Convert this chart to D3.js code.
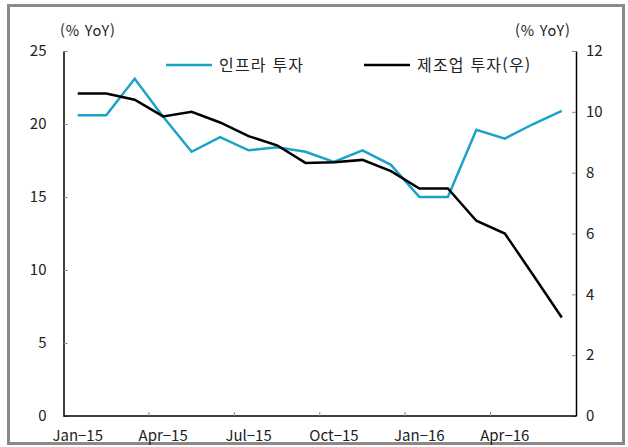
<!DOCTYPE html>
<html lang="ko">
<head>
<meta charset="utf-8">
<title>인프라 투자 vs 제조업 투자</title>
<style>
   html,body { margin:0; padding:0; background:#fff; }
   svg { display:block; }
   text { font-family:"Noto Sans CJK KR","Noto Sans",sans-serif; fill:#222; }
</style>
<script src="https://d3js.org/d3.v7.min.js"></script>
</head>
<body>
<script>
// months, Jan-15 .. Jun-16
const months = ['Jan-15','Feb-15','Mar-15','Apr-15','May-15','Jun-15','Jul-15','Aug-15','Sep-15',
   'Oct-15','Nov-15','Dec-15','Jan-16','Feb-16','Mar-16','Apr-16','May-16','Jun-16'];
const tickMonths = ['Jan-15','Apr-15','Jul-15','Oct-15','Jan-16','Apr-16'];
// 인프라 투자 (left axis, % YoY)
const infra = [20.6,20.6,23.1,20.5,18.1,19.1,18.2,18.4,18.1,17.4,18.2,17.2,15.0,15.0,19.6,19.0,20.0,20.9];
// 제조업 투자 (right axis, % YoY)
const manuf = [10.6,10.6,10.4,9.85,10.0,9.65,9.2,8.9,8.32,8.34,8.42,8.05,7.48,7.48,6.42,6.0,4.63,3.24];
const leftTicks = [0,5,10,15,20,25];
const rightTicks = [0,2,4,6,8,10,12];
const seriesNames = ['인프라 투자','제조업 투자(우)'];
const colors = ['#1ba3c6','#000000'];

const W = 628, H = 447;
const margin = {top:51, right:52, bottom:31, left:63.5};

const svg = d3.select('body').append('svg').attr('width',W).attr('height',H);

// outer frame
svg.append('rect').attr('x',8.5).attr('y',5.5).attr('width',615).attr('height',438)
   .attr('fill','none').attr('stroke','#8a8a8a').attr('stroke-width',3);

const x = d3.scaleBand().domain(months).range([margin.left, W-margin.right]);
const yL = d3.scaleLinear().domain([0,25]).range([H-margin.bottom, margin.top]);
const yR = d3.scaleLinear().domain([0,12]).range([H-margin.bottom, margin.top]);
const cx = m => x(m)+x.bandwidth()/2;

// left axis
const gL = svg.append('g').attr('transform',`translate(${margin.left},0)`)
   .call(d3.axisRight(yL).tickValues(leftTicks).tickSize(4).tickSizeOuter(0));
gL.select('.domain').attr('stroke','#000').attr('stroke-width',1.5);
gL.selectAll('.tick line').attr('stroke','#888');
gL.selectAll('.tick text').attr('x',-17).attr('text-anchor','end').style('font-size','15px').attr('fill','#333');

// right axis
const gR = svg.append('g').attr('transform',`translate(${W-margin.right},0)`)
   .call(d3.axisLeft(yR).tickValues(rightTicks).tickSize(4).tickSizeOuter(0));
gR.select('.domain').attr('stroke','#000').attr('stroke-width',1.5);
gR.selectAll('.tick line').attr('stroke','#888');
gR.selectAll('.tick text').attr('x',10).attr('text-anchor','start').style('font-size','15px').attr('fill','#333');

// bottom axis: ticks at band starts, labels at band centers
const gB = svg.append('g').attr('transform',`translate(0,${H-margin.bottom})`);
gB.append('line').attr('x1',margin.left).attr('x2',W-margin.right).attr('stroke','#000').attr('stroke-width',1.5);
gB.selectAll('line.tk').data(tickMonths.slice(1)).join('line').attr('class','tk')
   .attr('x1',d=>x(d)).attr('x2',d=>x(d)).attr('y1',0).attr('y2',-4).attr('stroke','#888');
gB.selectAll('text').data(tickMonths).join('text')
   .attr('x',d=>cx(d)).attr('y',25).attr('text-anchor','middle').style('font-size','15px').attr('fill','#333')
   .text(d=>d.replace('-','\u2212'));

// unit labels
svg.selectAll('text.unit').data([60,515]).join('text').attr('class','unit')
   .attr('x',d=>d).attr('y',36).style('font-size','14.5px').style('letter-spacing','0.8px').attr('fill','#333').text('(% YoY)');

// lines
const lineL = d3.line().x((d,i)=>cx(months[i])).y(d=>yL(d));
const lineR = d3.line().x((d,i)=>cx(months[i])).y(d=>yR(d));
svg.append('path').datum(infra).attr('d',lineL).attr('fill','none').attr('stroke',colors[0]).attr('stroke-width',2.5);
svg.append('path').datum(manuf).attr('d',lineR).attr('fill','none').attr('stroke',colors[1]).attr('stroke-width',2.5);

// legend
const legend = [{x:166,label:seriesNames[0],c:colors[0]},{x:364,label:seriesNames[1],c:colors[1]}];
const lg = svg.selectAll('g.lg').data(legend).join('g').attr('class','lg').attr('transform',d=>`translate(${d.x},65)`);
lg.append('line').attr('x1',0).attr('x2',46).attr('stroke',d=>d.c).attr('stroke-width',2.5);
lg.append('text').attr('x',53).attr('y',6).style('font-size','16px').style('letter-spacing','1.2px').attr('fill','#222').text(d=>d.label);
</script>
</body>
</html>
